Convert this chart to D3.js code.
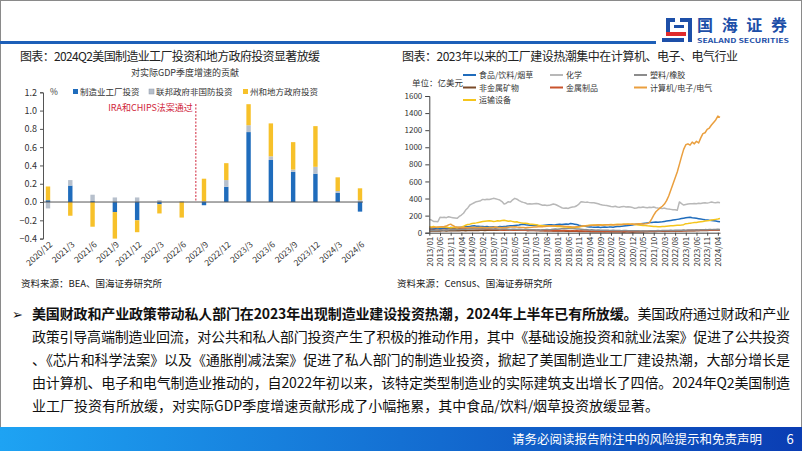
<!DOCTYPE html>
<html><head><meta charset="utf-8">
<script src="https://cdn.jsdelivr.net/npm/d3@7"></script>
<style>body{margin:0;background:#fff}svg{display:block}text{font-family:"Noto Sans CJK SC","Noto Sans",sans-serif}</style>
</head><body><svg id="c" width="802" height="451"></svg>
<script>
// ---------- Left chart data ----------
const leftCats = ["2020/12","2021/3","2021/6","2021/9","2021/12","2022/3","2022/6","2022/9","2022/12","2023/3","2023/6","2023/9","2023/12","2024/3","2024/6"];
const mfgFactory = [0.02,0.18,0.01,-0.11,-0.20,-0.025,0,-0.035,0.167,0.765,0.46,0.33,0.31,0.10,-0.105];
const fedNonDefense = [-0.07,0.06,0.07,0.05,0.05,0.02,0.01,0.01,0.073,0.075,0.04,0.025,0.075,0.02,0.02];
const stateLocal = [0.15,-0.15,-0.27,-0.29,-0.13,-0.10,-0.17,0.245,0.185,0.23,0.36,0.30,0.445,0.15,0.13];
const leftSeriesNames = ["制造业工厂投资","联邦政府非国防投资","州和地方政府投资"];
const leftTicks = [1.2,1.0,0.8,0.6,0.4,0.2,0.0,-0.2,-0.4];

// ---------- Right chart data ----------
const rightTickLabels = ["2013/01","2013/06","2013/11","2014/04","2014/09","2015/02","2015/07","2015/12","2016/05","2016/10","2017/03","2017/08","2018/01","2018/06","2018/11","2019/04","2019/09","2020/02","2020/07","2020/12","2021/05","2021/10","2022/03","2022/08","2023/01","2023/06","2023/11","2024/04"];
const rightSeriesNames = ["食品/饮料/烟草","化学","塑料/橡胶","非金属矿物","金属制品","计算机/电子/电气","运输设备"];
const food = [48,50,46,52,55,50,53,56,58,55,60,57, 58,62,60,65,68,72,70,74,78,80,76,75, 74,72,70,73,68,66,70,65,68,72,70,74, 75,78,80,82,85,88,90,95,98,92,90,88, 86,85,88,84,82,85,88,90,92,94,90,92, 95,98,96,100,102,98,108,104,100,95,88,82, 78,74,70,68,66,65,64,66,62,64,66,65, 66,68,65,70,72,74,76,78,80,85,88,90, 95,98,100,104,108,112,115,118,120,122,124,122, 125,128,132,136,140,144,148,152,156,160,165,170, 174,178,182,176,172,168,164,160,156,152,150,146, 144,140,136,132,128];
const chem = [156,148,132,130,128,180,178,182,176,187,180,176, 172,168,190,207,228,265,290,324,338,351,363,368, 375,390,385,392,388,395,402,398,390,382,365,335, 345,363,358,385,402,392,375,363,355,348,335,340, 336,340,343,338,330,322,324,318,320,328,335,330, 318,305,292,285,290,284,295,300,304,315,335,363, 360,355,358,352,350,351,345,338,330,324,320,318, 312,306,304,310,300,298,305,308,302,304,300,296, 285,290,298,295,300,296,292,298,294,300,292,288, 285,282,288,280,276,273,270,268,262,360,340,324, 330,335,338,340,343,338,345,342,348,351,346,352, 359,354,350,356,351];
const plastics = [28,30,26,32,30,34,32,30,35,33,36,34, 35,38,36,40,42,40,44,46,42,45,48,46, 44,42,45,48,46,44,42,45,43,40,42,44, 42,40,38,41,39,37,40,38,36,39,37,35, 34,36,33,35,32,34,36,38,35,37,40,42, 40,44,46,48,45,50,52,48,46,44,42,40, 38,36,35,33,34,32,30,31,29,30,28,30, 28,27,29,26,25,27,24,26,25,23,24,22, 23,22,24,21,22,20,21,23,22,24,23,25, 24,26,25,27,26,28,27,29,28,30,29,31, 30,32,31,33,32,34,33,35,34,36,35,37, 36,38,37,39,38];
const nonmetal = [20,22,19,21,23,20,22,24,21,23,25,22, 24,26,23,25,27,24,26,28,25,27,29,26, 28,30,27,29,31,28,30,32,29,31,33,30, 32,34,31,33,30,32,29,31,28,30,27,29, 26,28,25,27,24,26,23,25,22,24,21,23, 20,22,19,21,18,20,17,19,16,18,15,17, 14,16,13,15,12,14,11,13,12,14,11,13, 12,10,13,11,12,10,11,9,12,10,11,9, 10,12,11,13,12,14,13,15,14,16,15,17, 16,18,17,19,18,20,19,21,20,22,21,23, 22,24,23,25,24,26,25,27,26,28,27,29, 30,32,31,33,34];
const metal = [40,42,38,44,46,42,45,48,44,50,52,48, 46,44,48,45,50,52,48,54,50,46,48,44, 42,45,40,43,38,41,36,39,34,37,32,35, 33,36,31,34,30,33,29,32,28,31,27,30, 28,30,26,29,25,28,24,27,23,26,22,25, 24,26,23,25,22,24,21,23,20,22,19,21, 20,18,21,19,17,20,18,16,19,17,15,18, 16,14,17,15,13,16,14,12,15,13,11,14, 12,14,13,15,14,16,15,17,16,18,17,19, 18,20,19,21,20,22,21,23,22,24,23,25, 24,26,25,27,26,28,27,29,28,30,29,31, 30,32,31,33,32];
const computer = [60,58,62,65,68,66,70,72,78,92,100,84, 70,66,64,62,60,62,58,60,62,64,60,62, 64,62,60,58,60,62,64,66,62,60,58,60, 62,64,66,68,70,66,64,62,60,58,60,62, 64,66,68,70,72,70,74,76,78,80,78,80, 82,80,78,76,74,72,70,68,66,70,72,76, 78,80,82,84,86,88,90,92,90,88,90,92, 94,92,90,92,94,96,95,98,100,98,100,102, 100,102,104,105,102,104,108,118,160,205,245,268, 290,310,335,375,430,500,570,640,710,800,890,975, 1030,1040,1025,1060,1040,1070,1050,1110,1160,1170,1210,1225, 1260,1290,1320,1365,1350];
const transport = [70,68,72,65,62,66,70,68,64,60,58,62, 60,58,62,65,75,88,95,100,108,112,115,120, 125,130,135,138,140,136,132,135,140,138,142,145, 140,135,138,130,125,128,118,115,112,110,108,100, 98,95,92,88,85,82,80,78,80,82,78,76, 74,72,70,68,66,64,62,60,62,65,68,72, 76,80,84,86,88,90,88,90,92,90,92,94, 92,95,94,96,98,95,97,100,98,102,100,98, 96,92,90,88,85,84,80,78,76,74,72,70, 70,72,74,76,78,80,82,84,86,88,90,94, 106,108,112,115,118,120,124,128,132,136,140,142, 148,152,156,160,165];
const rightYTicks = [0,200,400,600,800,1000,1200,1400,1600];

const svg = d3.select("#c");
const FONT = '"Noto Sans CJK SC","Noto Sans",sans-serif';

// ---------- Header ----------
svg.append("rect").attr("x",0.5).attr("y",0.5).attr("width",801).attr("height",450).attr("fill","#fff").attr("stroke","#8a8a8a");
svg.append("rect").attr("x",0).attr("y",41).attr("width",656).attr("height",3).attr("fill","#1d5fb8");
const logo = svg.append("g");
logo.append("rect").attr("x",666).attr("y",18).attr("width",9).attr("height",4).attr("fill","#1d4fa8");
logo.append("rect").attr("x",680).attr("y",18).attr("width",12).attr("height",4).attr("fill","#1d4fa8");
logo.append("rect").attr("x",666).attr("y",18).attr("width",4).attr("height",14).attr("fill","#1d4fa8");
logo.append("rect").attr("x",688).attr("y",18).attr("width",4).attr("height",24).attr("fill","#1d4fa8");
logo.append("rect").attr("x",674).attr("y",25).attr("width",10).attr("height",3).attr("fill","#1d4fa8");
logo.append("rect").attr("x",666).attr("y",32).attr("width",20).attr("height",4).attr("fill","#e02a2a");
logo.append("rect").attr("x",662).attr("y",38).attr("width",22).attr("height",4).attr("fill","#1d4fa8");
svg.append("text").attr("x",697).attr("y",31).attr("font-size",16).attr("font-weight","bold").attr("fill","#1d4fa8").attr("textLength",90).text("国海证券");
svg.append("text").attr("x",697).attr("y",43).attr("font-size",6.5).attr("font-weight","bold").attr("fill","#1d4fa8").attr("textLength",92).attr("lengthAdjust","spacingAndGlyphs").text("SEALAND SECURITIES");

// ---------- Titles ----------
svg.append("text").attr("x",20).attr("y",61).attr("font-size",12).attr("fill","#222").attr("textLength",300).text("图表：2024Q2美国制造业工厂投资和地方政府投资显著放缓");
svg.append("text").attr("x",402).attr("y",61).attr("font-size",12).attr("fill","#222").attr("textLength",336).text("图表：2023年以来的工厂建设热潮集中在计算机、电子、电气行业");

// ---------- Left chart ----------
const xL = d3.scalePoint().domain(leftCats).range([48,360]);
const yL = d3.scaleLinear().domain([-0.4,1.2]).range([238.6,92.3]);
const leftColors = ["#1f6cbc","#b7c0cc","#f7c12a"];
const rows = leftCats.map((c,i)=>({cat:c, s0:mfgFactory[i], s1:fedNonDefense[i], s2:stateLocal[i]}));
const stack = d3.stack().keys(["s0","s1","s2"]).offset(d3.stackOffsetDiverging)(rows);
const gL = svg.append("g");
const bw = 4.4;
stack.forEach((layer,k)=>{
  gL.selectAll(null).data(layer).enter().append("rect")
    .attr("x",d=>xL(d.data.cat)-bw/2)
    .attr("y",d=>yL(Math.max(d[0],d[1])))
    .attr("width",bw)
    .attr("height",d=>Math.abs(yL(d[0])-yL(d[1])))
    .attr("fill",leftColors[k]);
});
const yAxisL = d3.axisLeft(yL).tickValues(leftTicks).tickSize(3).tickFormat(d3.format(".1f"));
const gyl = svg.append("g").attr("transform","translate(43,0)").call(yAxisL);
gyl.select(".domain").attr("stroke","#555");
gyl.selectAll(".tick line").attr("stroke","#555");
gyl.selectAll(".tick text").attr("font-size",9).attr("fill","#333").attr("font-family",FONT).attr("x",-6);
svg.append("line").attr("x1",43).attr("x2",363).attr("y1",yL(0)).attr("y2",yL(0)).attr("stroke","#555").attr("stroke-width",1);
svg.append("g").selectAll("text").data(leftCats).enter().append("text")
  .attr("transform",d=>`translate(${xL(d)+3},${243}) rotate(-42)`)
  .attr("text-anchor","end").attr("dy","0.35em").attr("font-size",8.5).attr("fill","#333").text(d=>d);
const dashX = (xL("2022/6")+xL("2022/9"))/2+3;
svg.append("line").attr("x1",dashX).attr("x2",dashX).attr("y1",104).attr("y2",yL(0)).attr("stroke","#d0253a").attr("stroke-dasharray","2,1.5").attr("stroke-width",1);
svg.append("text").attr("x",dashX-3).attr("y",111).attr("text-anchor","end").attr("font-size",9).attr("fill","#d0253a").text("IRA和CHIPS法案通过");
svg.append("text").attr("x",185).attr("y",76).attr("text-anchor","middle").attr("font-size",9).attr("fill","#333").text("对实际GDP季度增速的贡献");
svg.append("text").attr("x",50).attr("y",95).attr("font-size",8.5).attr("fill","#333").text("%");
const legX = [73,149,243];
leftSeriesNames.forEach((n,i)=>{
  svg.append("rect").attr("x",legX[i]).attr("y",89).attr("width",5).attr("height",5).attr("fill",leftColors[i]).attr("stroke",i==1?"#8f98a6":"none").attr("stroke-width",0.5);
  svg.append("text").attr("x",legX[i]+7).attr("y",95).attr("font-size",8.5).attr("fill","#333").text(n);
});
svg.append("text").attr("x",21).attr("y",287).attr("font-size",9.5).attr("fill","#222").text("资料来源：BEA、国海证券研究所");

// ---------- Right chart ----------
const months = d3.timeMonth.range(new Date(2013,0,1), new Date(2024,5,1)).map(d3.timeFormat("%Y/%m"));
const xR = d3.scalePoint().domain(months).range([429.3,720]);
const yR = d3.scaleLinear().domain([0,1600]).range([232.7,96]);
const rightColors = ["#1f6cbc","#b8b8b8","#8c8c8c","#7a4a28","#c9532c","#ea9f3e","#f5c51c"];
const rightData = [food, chem, plastics, nonmetal, metal, computer, transport];
const line = d3.line().x((d,i)=>xR(months[i])).y(d=>yR(d));
const drawOrder = [3,4,2,0,6,1,5];
drawOrder.forEach(k=>{
  svg.append("path").attr("d",line(rightData[k])).attr("fill","none").attr("stroke",rightColors[k]).attr("stroke-width",1.5).attr("stroke-linejoin","round");
});
const yAxisR = d3.axisLeft(yR).tickValues(rightYTicks).tickSize(4).tickFormat(d3.format("d"));
const gyr = svg.append("g").attr("transform","translate(429.3,0)").call(yAxisR);
gyr.select(".domain").attr("stroke","#444");
gyr.selectAll(".tick line").attr("stroke","#444");
gyr.selectAll(".tick text").attr("font-size",8).attr("fill","#333").attr("font-family",FONT).attr("x",-7);
const xAxisR = d3.axisBottom(xR).tickValues(rightTickLabels).tickSize(3).tickSizeOuter(0);
const gxr = svg.append("g").attr("transform","translate(0,232.7)").call(xAxisR);
gxr.select(".domain").attr("stroke","#444");
gxr.selectAll(".tick line").attr("stroke","#444");
gxr.selectAll(".tick text").attr("font-size",8).attr("fill","#333").attr("font-family",FONT)
  .attr("transform","rotate(-90)").attr("text-anchor","end").attr("x",-4).attr("y",0).attr("dy","0.35em");
svg.append("text").attr("x",412).attr("y",86).attr("font-size",8.5).attr("fill","#333").text("单位：亿美元");
const legPos = [[463,75],[550,75],[634,75],[463,87.5],[550,87.5],[634,87.5],[463,100]];
rightSeriesNames.forEach((n,i)=>{
  const [lx,ly] = legPos[i];
  svg.append("line").attr("x1",lx).attr("x2",lx+13).attr("y1",ly).attr("y2",ly).attr("stroke",rightColors[i]).attr("stroke-width",2);
  svg.append("text").attr("x",lx+16).attr("y",ly+3).attr("font-size",8).attr("fill","#333").text(n);
});
svg.append("text").attr("x",397).attr("y",287).attr("font-size",9.5).attr("fill","#222").text("资料来源：Census、国海证券研究所");

// ---------- Paragraph ----------
const para = svg.append("g").attr("fill","#111");
para.append("text").attr("x",12).attr("y",319).attr("font-size",13).text("➢");
const t1 = para.append("text").attr("x",32).attr("y",319).attr("font-size",14);
t1.append("tspan").attr("font-weight","bold").text("美国财政和产业政策带动私人部门在2023年出现制造业建设投资热潮，2024年上半年已有所放缓。");
t1.append("tspan").text("美国政府通过财政和产业");
t1.attr("textLength",758).attr("lengthAdjust","spacing");
const lines = ["政策引导高端制造业回流，对公共和私人部门投资产生了积极的推动作用，其中《基础设施投资和就业法案》促进了公共投资",
"、《芯片和科学法案》以及《通胀削减法案》促进了私人部门的制造业投资，掀起了美国制造业工厂建设热潮，大部分增长是",
"由计算机、电子和电气制造业推动的，自2022年初以来，该特定类型制造业的实际建筑支出增长了四倍。2024年Q2美国制造",
"业工厂投资有所放缓，对实际GDP季度增速贡献形成了小幅拖累，其中食品/饮料/烟草投资放缓显著。"];
const ys = [342,365,388,411];
lines.forEach((s,i)=>{
  const t = para.append("text").attr("x",32).attr("y",ys[i]).attr("font-size",14).text(s);
  if(i<3) t.attr("textLength",758).attr("lengthAdjust","spacing");
});

// ---------- Footer ----------
const grad = svg.append("defs").append("linearGradient").attr("id","fg").attr("x1","0").attr("x2","1");
grad.append("stop").attr("offset","0").attr("stop-color","#1ea3f3");
grad.append("stop").attr("offset","1").attr("stop-color","#0a3db3");
svg.append("rect").attr("x",0).attr("y",427).attr("width",802).attr("height",24).attr("fill","url(#fg)");
svg.append("text").attr("x",762).attr("y",444).attr("text-anchor","end").attr("font-size",12.5).attr("fill","#fff").text("请务必阅读报告附注中的风险提示和免责声明");
svg.append("text").attr("x",790).attr("y",444).attr("text-anchor","middle").attr("font-size",13).attr("fill","#fff").text("6");
</script></body></html>
